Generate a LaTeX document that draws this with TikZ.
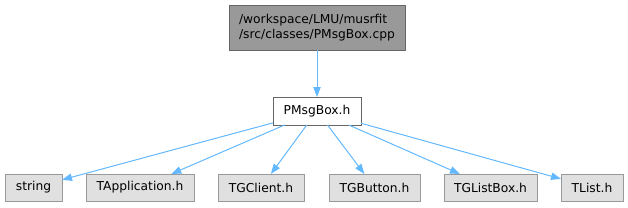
\documentclass[tikz,border=0pt]{standalone}
\usepackage{fontspec}
\setmainfont{DejaVu Sans}
\usetikzlibrary{arrows.meta}
\definecolor{edgeblue}{HTML}{63B8FF}
\definecolor{topfill}{HTML}{999999}
\definecolor{topdraw}{HTML}{666666}
\definecolor{leaffill}{HTML}{E0E0E0}
\definecolor{leafdraw}{HTML}{999999}
\begin{document}
\begin{tikzpicture}[x=0.75pt,y=-0.75pt,
  every node/.style={inner sep=0pt, outer sep=0pt, font=\fontsize{9.2pt}{11.5pt}\selectfont},
  mainbox/.style={draw=topdraw, fill=topfill, line width=0.75pt, minimum width=132pt, minimum height=33.75pt, align=left},
  hdrbox/.style={draw=topdraw, fill=white, line width=0.75pt, minimum width=66pt, minimum height=21pt},
  leafbox/.style={draw=leafdraw, fill=leaffill, line width=0.75pt, minimum height=20.25pt},
  dep/.style={draw=edgeblue, line width=0.75pt, -{Triangle[length=7.5pt,width=5.5pt]}}
]
\useasboundingbox (0,0) rectangle (628,207);
\node[mainbox] (top) at (317,27.5) {/workspace/LMU/musrfit\\/src/classes/PMsgBox.cpp};
\node[hdrbox] (pm) at (317,111) {PMsgBox.h};
\node[leafbox, minimum width=42.75pt] (s) at (33.5,187.5) {string};
\node[leafbox, minimum width=81pt] (ta) at (140,187.5) {TApplication.h};
\node[leafbox, minimum width=64.5pt] (tc) at (261,187.5) {TGClient.h};
\node[leafbox, minimum width=68.25pt] (tb) at (374.5,187.5) {TGButton.h};
\node[leafbox, minimum width=69.75pt] (tl) at (490.5,187.5) {TGListBox.h};
\node[leafbox, minimum width=46.5pt] (tt) at (592,187.5) {TList.h};
\draw[dep] (top) -- (pm);
\draw[dep] (pm) -- (s);
\draw[dep] (pm) -- (ta);
\draw[dep] (pm) -- (tc);
\draw[dep] (pm) -- (tb);
\draw[dep] (pm) -- (tl);
\draw[dep] (pm) -- (tt);
\end{tikzpicture}
\end{document}
